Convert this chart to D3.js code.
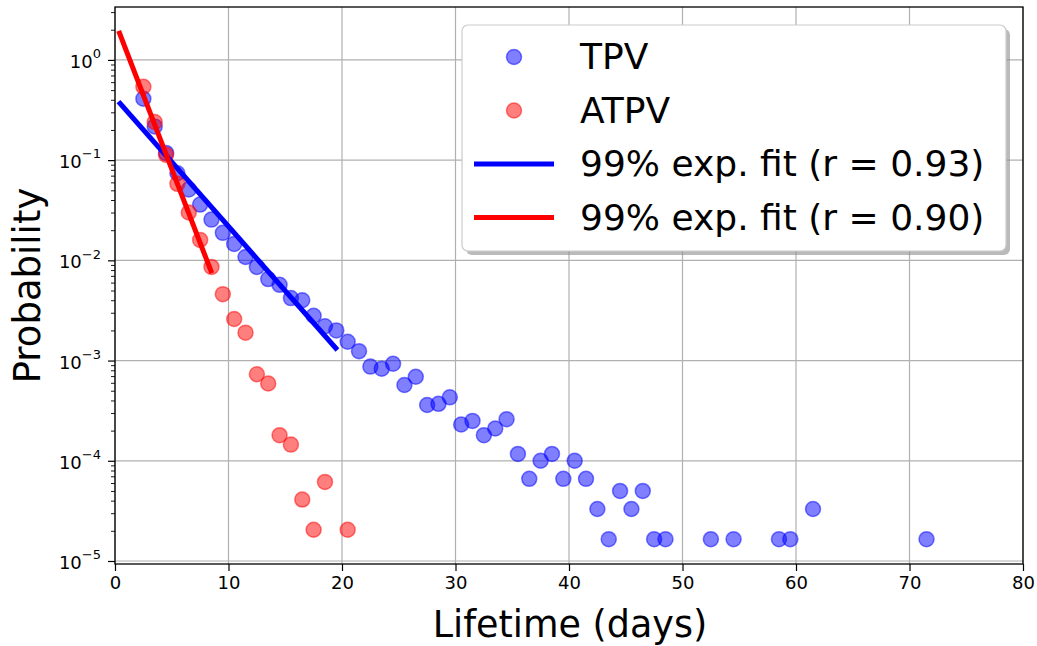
<!DOCTYPE html>
<html>
<head>
<meta charset="utf-8">
<script src="https://cdn.jsdelivr.net/npm/d3@7"></script>
<style>
  body { margin: 0; background: #fff; }
  svg text { font-family: "DejaVu Sans", sans-serif; fill: #000; }
</style>
</head>
<body>
<div id="chart"></div>
<script>
var svgWidth = 1037;
var svgHeight = 646;

// plot box in pixels
var plot = { left: 115, right: 1023, top: 7, bottom: 564 };

// TPV histogram (bin centres in days, probability)
var tpvDays = [2.5, 3.5, 4.5, 5.5, 6.5, 7.5, 8.5, 9.5, 10.5, 11.5, 12.5, 13.5, 14.5, 15.5,
  16.5, 17.5, 18.5, 19.5, 20.5, 21.5, 22.5, 23.5, 24.5, 25.5, 26.5, 27.5, 28.5, 29.5,
  30.5, 31.5, 32.5, 33.5, 34.5, 35.5, 36.5, 37.5, 38.5, 39.5, 40.5, 41.5, 42.5, 43.5,
  44.5, 45.5, 46.5, 47.5, 48.5, 52.5, 54.5, 58.5, 59.5, 61.5, 71.5];
var tpvProb = [0.41, 0.217, 0.118, 0.074, 0.051, 0.036, 0.0255, 0.0188, 0.0146, 0.0108,
  0.0086, 0.0065, 0.0057, 0.0042, 0.0040, 0.0028, 0.0022, 0.0020, 0.00154, 0.00124,
  0.00087, 0.00083, 0.00093, 0.00057, 0.00069, 0.00036, 0.00037, 0.00043, 0.00023,
  0.00025, 0.00018, 0.00021, 0.00026, 0.000117, 0.000066, 0.0001, 0.000117, 0.000066,
  0.0001, 0.000066, 0.000033, 0.0000165, 0.00005, 0.000033, 0.00005, 0.0000165,
  0.0000165, 0.0000165, 0.0000165, 0.0000165, 0.0000165, 0.000033, 0.0000165];

// ATPV histogram
var atpvDays = [2.5, 3.5, 4.5, 5.5, 6.5, 7.5, 8.5, 9.5, 10.5, 11.5, 12.5, 13.5, 14.5,
  15.5, 16.5, 17.5, 18.5, 20.5];
var atpvProb = [0.54, 0.24, 0.113, 0.058, 0.030, 0.016, 0.0086, 0.0046, 0.0026, 0.0019,
  0.00073, 0.00059, 0.00018, 0.000145, 0.000041, 0.0000205, 0.0000615, 0.0000205];

// exponential fits (end points of the straight lines on the log axis)
var tpvFitDays = [0.45, 19.45];
var tpvFitProb = [0.368, 0.00133];
var atpvFitDays = [0.4, 8.45];
var atpvFitProb = [1.85, 0.00785];

var xTicks = [0, 10, 20, 30, 40, 50, 60, 70, 80];
var yTicks = [1e-5, 1e-4, 1e-3, 1e-2, 1e-1, 1e0];
var yTickExp = ["\u22125", "\u22124", "\u22123", "\u22122", "\u22121", "0"];

var legendLabels = ["TPV", "ATPV", "99% exp. fit (r = 0.93)", "99% exp. fit (r = 0.90)"];

var svg = d3.select("#chart").append("svg")
  .attr("width", svgWidth)
  .attr("height", svgHeight);

var xScale = d3.scaleLinear().domain([0, 80]).range([plot.left, plot.right]);
var yScale = d3.scaleLog()
  .domain([Math.pow(10, -5.03), Math.pow(10, 0.528)])
  .range([plot.bottom, plot.top]);

// grid
var grid = svg.append("g").attr("stroke", "#b0b0b0").attr("stroke-width", 1.2);
grid.selectAll(".gx").data(xTicks).enter().append("line")
  .attr("x1", d => xScale(d)).attr("x2", d => xScale(d))
  .attr("y1", plot.top).attr("y2", plot.bottom);
grid.selectAll(".gy").data(yTicks).enter().append("line")
  .attr("x1", plot.left).attr("x2", plot.right)
  .attr("y1", d => yScale(d)).attr("y2", d => yScale(d));

svg.append("clipPath").attr("id", "plotclip").append("rect")
  .attr("x", plot.left).attr("y", plot.top)
  .attr("width", plot.right - plot.left).attr("height", plot.bottom - plot.top);

var chartGroup = svg.append("g").attr("clip-path", "url(#plotclip)");

// scatter points
function drawPoints(days, probs, color) {
  chartGroup.append("g").selectAll("circle")
    .data(days.map((d, i) => ({ x: d, y: probs[i] })))
    .enter().append("circle")
    .attr("cx", d => xScale(d.x))
    .attr("cy", d => yScale(d.y))
    .attr("r", 7.5)
    .attr("fill", color)
    .attr("fill-opacity", 0.5)
    .attr("stroke", color)
    .attr("stroke-opacity", 0.5)
    .attr("stroke-width", 1.5);
}
drawPoints(tpvDays, tpvProb, "#0000ff");
drawPoints(atpvDays, atpvProb, "#ff0000");

// fit lines
var line = d3.line().x(d => xScale(d.x)).y(d => yScale(d.y));
function drawFit(days, probs, color) {
  chartGroup.append("path")
    .datum(days.map((d, i) => ({ x: d, y: probs[i] })))
    .attr("d", line)
    .attr("fill", "none")
    .attr("stroke", color)
    .attr("stroke-width", 5)
    .attr("stroke-linecap", "square");
}
drawFit(tpvFitDays, tpvFitProb, "#0000ff");
drawFit(atpvFitDays, atpvFitProb, "#ff0000");

// axes
var bottomAxis = d3.axisBottom(xScale).tickValues(xTicks).tickSize(7).tickPadding(5)
  .tickFormat(d3.format("d"));
var xAxis = svg.append("g")
  .attr("transform", `translate(0, ${plot.bottom})`)
  .call(bottomAxis);
xAxis.select(".domain").remove();
xAxis.selectAll("line").attr("stroke-width", 1.2);
xAxis.selectAll("text").attr("font-size", 18).attr("font-family", "DejaVu Sans");

var minorTicks = [];
for (var e = -6; e <= 0; e++) {
  for (var m = 2; m <= 9; m++) {
    var v = m * Math.pow(10, e);
    if (v >= yScale.domain()[0] && v <= yScale.domain()[1]) minorTicks.push(v);
  }
}
var leftMinor = d3.axisLeft(yScale).tickValues(minorTicks).tickSize(4).tickFormat("");
var yMinor = svg.append("g")
  .attr("transform", `translate(${plot.left}, 0)`)
  .call(leftMinor);
yMinor.select(".domain").remove();
yMinor.selectAll("line").attr("stroke-width", 0.9);

var leftAxis = d3.axisLeft(yScale).tickValues(yTicks).tickSize(7).tickPadding(7)
  .tickFormat("");
var yAxis = svg.append("g")
  .attr("transform", `translate(${plot.left}, 0)`)
  .call(leftAxis);
yAxis.select(".domain").remove();
yAxis.selectAll("line").attr("stroke-width", 1.2);
yAxis.selectAll(".tick").each(function(d, i) {
  var t = d3.select(this).select("text")
    .attr("font-size", 18)
    .attr("font-family", "DejaVu Sans")
    .attr("dy", "0.42em");
  t.append("tspan").text("10");
  t.append("tspan").attr("font-size", 13).attr("dy", "-0.75em").text(yTickExp[i]);
});

// spines
svg.append("rect")
  .attr("x", plot.left).attr("y", plot.top)
  .attr("width", plot.right - plot.left).attr("height", plot.bottom - plot.top)
  .attr("fill", "none").attr("stroke", "#000").attr("stroke-width", 1.3);

// axis labels
svg.append("text")
  .attr("x", (plot.left + plot.right) / 2 + 1).attr("y", 637)
  .attr("text-anchor", "middle").attr("font-size", 36.5)
  .text("Lifetime (days)");
svg.append("text")
  .attr("transform", `translate(40, ${(plot.top + plot.bottom) / 2}) rotate(-90)`)
  .attr("text-anchor", "middle").attr("font-size", 37)
  .text("Probability");

// legend
var legend = svg.append("g").attr("transform", "translate(462, 25)");
legend.append("rect")
  .attr("x", 4).attr("y", 4).attr("width", 544).attr("height", 226).attr("rx", 6)
  .attr("fill", "#8c8c8c").attr("opacity", 0.6);
legend.append("rect")
  .attr("width", 544).attr("height", 226).attr("rx", 6)
  .attr("fill", "#fff").attr("stroke", "#cccccc").attr("stroke-width", 1.2);

var rows = [
  { type: "dot", color: "#0000ff" },
  { type: "dot", color: "#ff0000" },
  { type: "line", color: "#0000ff" },
  { type: "line", color: "#ff0000" }
];
rows.forEach(function(r, i) {
  var cy = 32 + i * 53.5;
  if (r.type === "dot") {
    legend.append("circle").attr("cx", 52).attr("cy", cy).attr("r", 7.5)
      .attr("fill", r.color).attr("fill-opacity", 0.5)
      .attr("stroke", r.color).attr("stroke-opacity", 0.5).attr("stroke-width", 1.5);
  } else {
    legend.append("line").attr("x1", 12).attr("x2", 92).attr("y1", cy).attr("y2", cy)
      .attr("stroke", r.color).attr("stroke-width", 5);
  }
  legend.append("text")
    .attr("x", 118).attr("y", cy + 12)
    .attr("font-size", 36)
    .text(legendLabels[i]);
});
</script>
</body>
</html>
